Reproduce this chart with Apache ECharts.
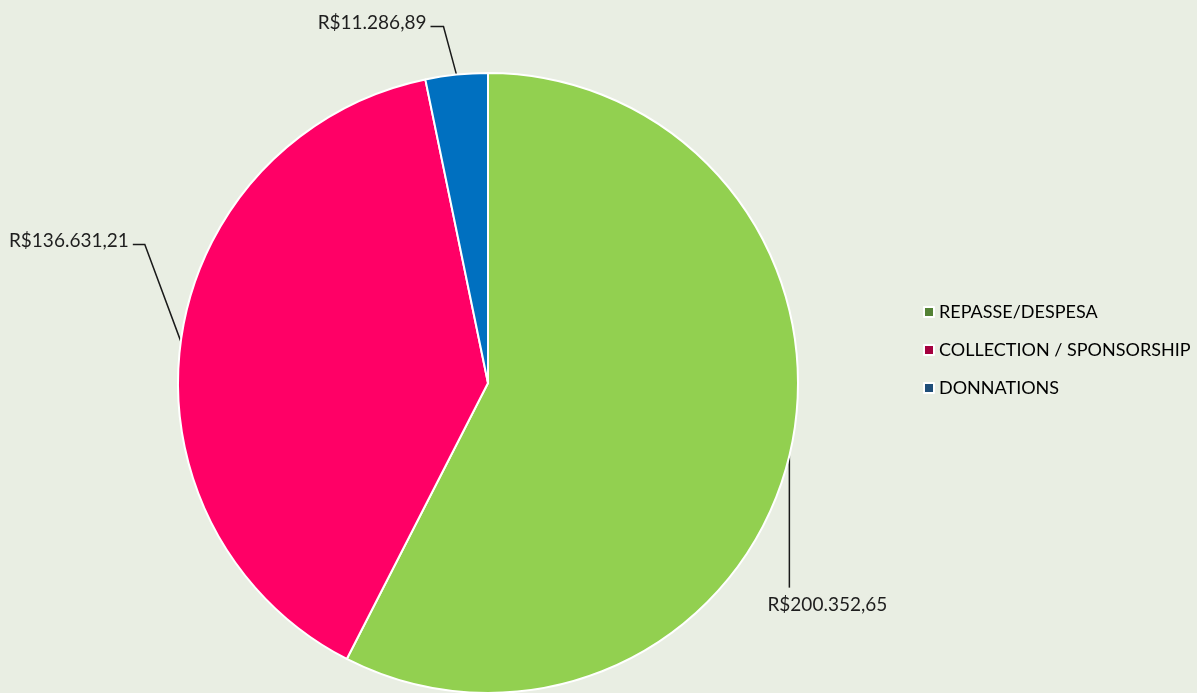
<!DOCTYPE html>
<html>
<head>
<meta charset="utf-8">
<script src="https://cdn.jsdelivr.net/npm/echarts@6/dist/echarts.min.js"></script>
<style>
  html, body { margin: 0; padding: 0; background: #e9eee3; }
  #chart { width: 1197px; height: 693px; }
</style>
</head>
<body>
<div id="chart"></div>
<script>
// dados do gráfico
var categories = ['REPASSE/DESPESA', 'COLLECTION / SPONSORSHIP', 'DONNATIONS'];
var values = [200352.65, 136631.21, 11286.89];

// cores das fatias e dos ícones da legenda
var sliceColors = ['#92d050', '#ff0066', '#0070c0'];
var legendColors = ['#548235', '#a5003f', '#1f4e79'];

// deslocamento do rótulo em relação ao ponto da borda (estilo, não dado)
var labelLayouts = [
  { line: [[0, 0], [0, 66], [0, 132]], text: [38, 149], align: 'center' },
  { line: [[0, 0], [-36, -97], [-48, -97]], text: [-52, -101], align: 'right' },
  { line: [[0, 0], [-13, -48], [-26, -48]], text: [-30, -52], align: 'right' }
];

function formatBRL(v) {
  var parts = v.toFixed(2).split('.');
  var int = parts[0].replace(/\B(?=(\d{3})+(?!\d))/g, '.');
  return 'R$' + int + ',' + parts[1];
}

var chart = echarts.init(document.getElementById('chart'));

var pieData = categories.map(function (name, i) {
  return {
    name: name,
    value: values[i],
    itemStyle: { color: sliceColors[i] }
  };
});

chart.setOption({
  backgroundColor: '#e9eee3',
  animation: false,
  legend: {
    orient: 'vertical',
    left: 918,
    top: 297,
    itemWidth: 10,
    itemHeight: 10,
    itemGap: 18,
    icon: 'rect',
    textStyle: {
      fontFamily: 'Lato',
      fontSize: 18,
      lineHeight: 20,
      color: '#000'
    },
    data: categories.map(function (name, i) {
      return { name: name, itemStyle: { color: legendColors[i] } };
    })
  },
  series: [
    {
      type: 'pie',
      center: [488, 383],
      radius: 310,
      startAngle: 90,
      clockwise: true,
      avoidLabelOverlap: false,
      itemStyle: {
        borderColor: '#ffffff',
        borderWidth: 2
      },
      label: {
        show: true,
        position: 'outside',
        formatter: function (p) { return formatBRL(p.value); },
        fontFamily: 'Lato',
        fontSize: 19,
        color: '#1e1e1e'
      },
      labelLine: {
        show: true,
        length: 20,
        length2: 10,
        lineStyle: { color: '#1a1a1a', width: 1.5 }
      },
      labelLayout: function (params) {
        var cfg = labelLayouts[params.dataIndex];
        var a = params.labelLinePoints[0];
        return {
          x: a[0] + cfg.text[0],
          y: a[1] + cfg.text[1],
          align: cfg.align,
          verticalAlign: 'middle',
          labelLinePoints: cfg.line.map(function (d) { return [a[0] + d[0], a[1] + d[1]]; })
        };
      },
      emphasis: { disabled: true },
      data: pieData
    }
  ]
});
</script>
</body>
</html>
